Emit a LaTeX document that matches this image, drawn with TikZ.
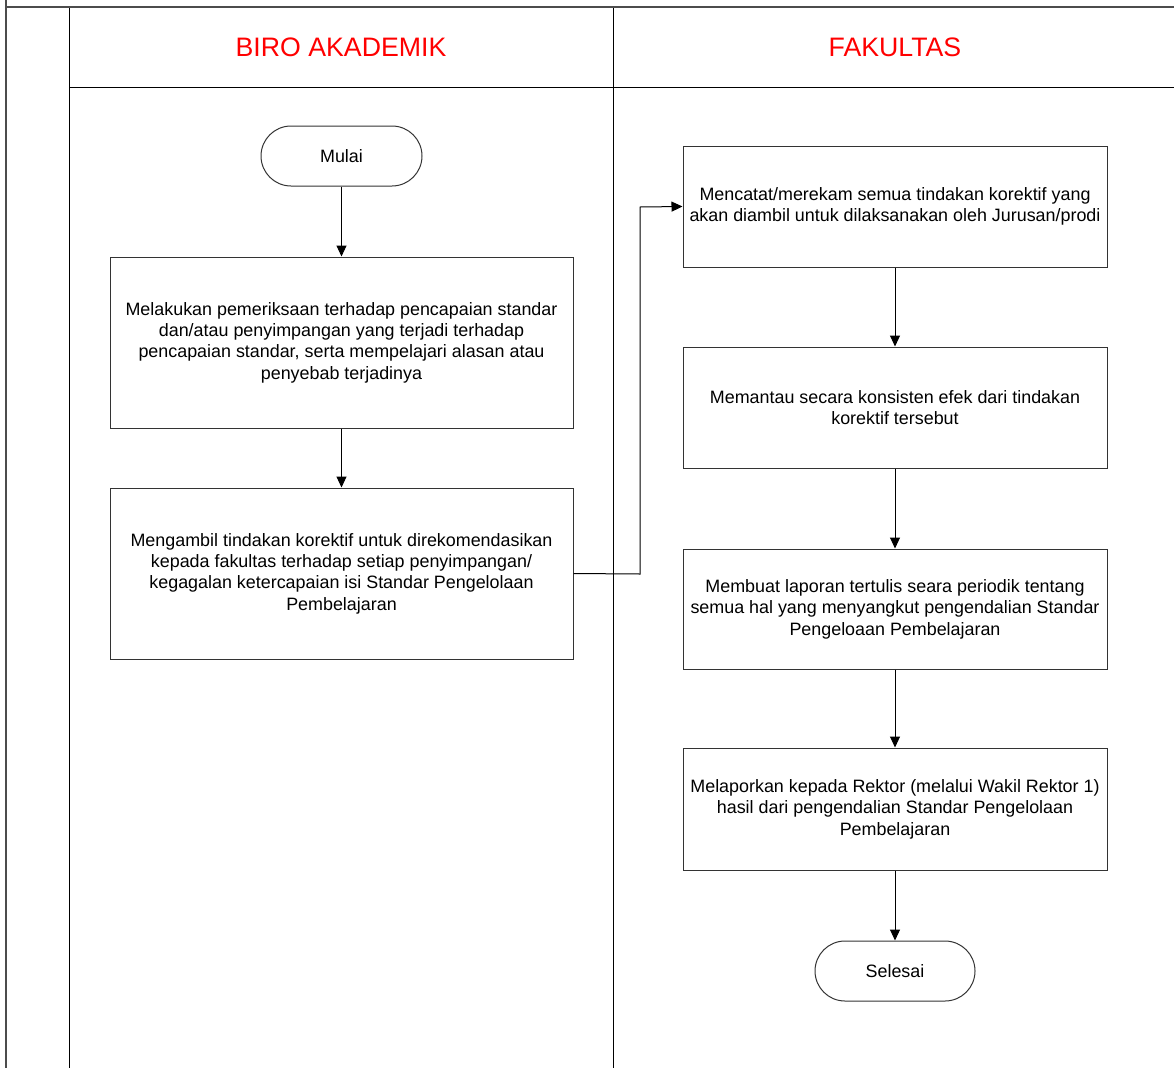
\documentclass[tikz,border=0pt]{standalone}
\usepackage{fontspec}
\setmainfont{Liberation Sans}
\usetikzlibrary{arrows.meta}
\begin{document}
\begin{tikzpicture}[x=1pt,y=-1pt,
  lane/.style={draw=black,line width=1pt},
  frame/.style={draw=black!70,line width=2pt},
  procbox/.style={draw=black!80,line width=1pt,rectangle,align=center,inner sep=4pt,
    font=\fontsize{17.9}{21.4}\selectfont},
  term/.style={draw=black!80,line width=1pt,rectangle,rounded corners=30pt,align=center,
    font=\fontsize{17.9}{21.4}\selectfont},
  head/.style={text=red,font=\fontsize{26.7}{30}\selectfont},
  flow/.style={draw=black,line width=1pt,line join=miter,-{Triangle[length=11pt,width=10pt]}}]
\useasboundingbox (0,0) rectangle (1174,1068);
% frame and lanes
\draw[frame] (6,0) -- (6,1068);
\draw[frame] (6,7) -- (1174,7);
\draw[lane] (69,8) -- (69,1068);
\draw[lane] (613,8) -- (613,1068);
\draw[lane] (69,87) -- (1174,87);
% headers
\node[head] (h1) at (341,47) {BIRO AKADEMIK};
\node[head] (h2) at (895,47) {FAKULTAS};
% nodes
\node[term,minimum width=161pt,minimum height=60pt] (start) at (341.5,156) {Mulai};
\node[procbox,minimum width=463pt,minimum height=171pt] (b1) at (341.5,342.5)
  {Melakukan pemeriksaan terhadap pencapaian standar\\dan/atau penyimpangan yang terjadi terhadap\\pencapaian standar, serta mempelajari alasan atau\\penyebab terjadinya};
\node[procbox,minimum width=463pt,minimum height=171pt] (b2) at (341.5,573.5)
  {Mengambil tindakan korektif untuk direkomendasikan\\kepada fakultas terhadap setiap penyimpangan/\\kegagalan ketercapaian isi Standar Pengelolaan\\Pembelajaran};
\node[procbox,minimum width=424pt,minimum height=121pt] (f1) at (895,206.5)
  {Mencatat/merekam semua tindakan korektif yang\\akan diambil untuk dilaksanakan oleh Jurusan/prodi};
\node[procbox,minimum width=424pt,minimum height=121pt] (f2) at (895,407.5)
  {Memantau secara konsisten efek dari tindakan\\korektif tersebut};
\node[procbox,minimum width=424pt,minimum height=120pt] (f3) at (895,609)
  {Membuat laporan tertulis seara periodik tentang\\semua hal yang menyangkut pengendalian Standar\\Pengeloaan Pembelajaran};
\node[procbox,minimum width=424pt,minimum height=122pt] (f4) at (895,809)
  {Melaporkan kepada Rektor (melalui Wakil Rektor 1)\\hasil dari pengendalian Standar Pengelolaan\\Pembelajaran};
\node[term,minimum width=160pt,minimum height=60pt] (end) at (895,971) {Selesai};
% connectors
\coordinate (c1) at (640,574);
\coordinate (c2) at (640,207);
\draw[flow] (start) -- (b1);
\draw[flow] (b1) -- (b2);
\draw[flow] (b2.east) -- (c1) -- (c2) -- (f1.west);
\draw[flow] (f1) -- (f2);
\draw[flow] (f2) -- (f3);
\draw[flow] (f3) -- (f4);
\draw[flow] (f4) -- (end);
\end{tikzpicture}
\end{document}
